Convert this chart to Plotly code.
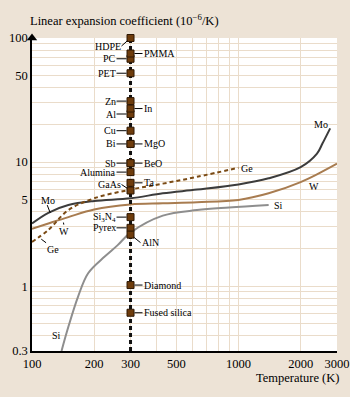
import math
import plotly.graph_objects as go

# ---- data ----
room_T = 300

mo_T = [100, 120, 150, 200, 300, 430, 630, 1000, 1400, 2000, 2400, 2550, 2780]
mo_v = [3.2, 3.9, 4.5, 4.85, 5.1, 5.6, 6.0, 6.6, 7.4, 9.1, 11.7, 14.1, 18.7]

w_T = [100, 120, 150, 200, 300, 430, 630, 1000, 1400, 2000, 2450, 3000]
w_v = [2.9, 3.2, 3.6, 4.15, 4.55, 4.65, 4.75, 4.95, 5.6, 6.9, 8.1, 9.7]

ge_T = [100, 120, 150, 200, 300, 430, 630, 1000]
ge_v = [2.27, 2.84, 4.1, 5.1, 6.0, 6.7, 7.6, 9.0]

si_T = [139, 150, 167, 187, 225, 260, 300, 430, 630, 900, 1400]
si_v = [0.3, 0.47, 0.82, 1.27, 1.73, 2.14, 2.7, 3.7, 4.1, 4.3, 4.5]

mat_left = ["HDPE", "PC", "PET", "Zn", "Al", "Cu", "Bi", "Sb", "Alumina", "GaAs",
            "Si<sub>3</sub>N<sub>4</sub>", "Pyrex"]
val_left = [100, 68, 52, 31, 24.4, 17.9, 14, 9.8, 8.3, 5.9, 3.6, 2.95]
mat_right = ["PMMA", "In", "MgO", "BeO", "Ta", "AlN", "Diamond", "Fused silica"]
val_right = [75, 27, 14, 9.8, 6.8, 2.6, 1.02, 0.61]

x_ticks = [100, 200, 300, 500, 1000, 2000, 3000]
x_minor = [400, 600, 700, 800, 900]
y_ticks = [0.3, 1, 5, 10, 50, 100]
y_minor = [0.4, 0.5, 0.6, 0.7, 0.8, 0.9, 2, 3, 4, 6, 7, 8, 9, 20, 30, 40, 60, 70, 80, 90]

# ---- styles ----
BG = "#EDE3D6"
GRID = "#EADCCA"
FONT = "Liberation Serif"
MARK = "#6E3C0C"
lx = math.log10

fig = go.Figure()

fig.add_trace(go.Scatter(x=si_T, y=si_v, mode="lines", line_shape="spline",
                         line=dict(color="#8E8E8E", width=2), showlegend=False))
fig.add_trace(go.Scatter(x=w_T, y=w_v, mode="lines", line_shape="spline",
                         line=dict(color="#A87C50", width=2), showlegend=False))
fig.add_trace(go.Scatter(x=mo_T, y=mo_v, mode="lines", line_shape="spline",
                         line=dict(color="#3C3C3C", width=2), showlegend=False))
fig.add_trace(go.Scatter(x=ge_T, y=ge_v, mode="lines", line_shape="spline",
                         line=dict(color="#7A4A14", width=2, dash="4px,3px"), showlegend=False))

# room-temperature dashed line
fig.add_trace(go.Scatter(x=[room_T, room_T], y=[y_ticks[0], y_ticks[-1]], mode="lines",
                         line=dict(color="#111111", width=3, dash="4px,3px"), showlegend=False))

all_vals = val_left + val_right
fig.add_trace(go.Scatter(x=[room_T] * len(all_vals), y=all_vals, mode="markers",
                         marker=dict(symbol="square", size=7, color=MARK,
                                     line=dict(color="#2E1804", width=1)),
                         cliponaxis=False, showlegend=False))

# axis arrow heads at the axis ends
fig.add_trace(go.Scatter(x=[x_ticks[0]], y=[y_ticks[-1]], mode="markers",
                         marker=dict(symbol="triangle-up", size=9, color="black"),
                         cliponaxis=False, showlegend=False))
fig.add_trace(go.Scatter(x=[x_ticks[-1]], y=[y_ticks[0]], mode="markers",
                         marker=dict(symbol="triangle-right", size=9, color="black"),
                         cliponaxis=False, showlegend=False))

# short leader for the left "Mo" label
fig.add_trace(go.Scatter(x=[118.5, 122.5], y=[4.5, 3.9], mode="lines",
                         line=dict(color="black", width=1), showlegend=False))

ann = []
lab_font = dict(family=FONT, size=10, color="black")


def leader(x, y, text, ax, ay, xanchor, yanchor="middle"):
    ann.append(dict(x=lx(x), y=lx(y), xref="x", yref="y", text=text, showarrow=True,
                    arrowhead=0, arrowwidth=1, arrowcolor="black", ax=ax, ay=ay,
                    standoff=4, xanchor=xanchor, yanchor=yanchor, font=lab_font,
                    borderpad=0))


for name, v in zip(mat_left, val_left):
    if name == "HDPE":
        leader(room_T, v, name, -9, 8, "right")
    elif name == "GaAs":
        leader(room_T, v, name, -9, -6, "right")
    else:
        leader(room_T, v, name, -14, 0, "right")

for name, v in zip(mat_right, val_right):
    if name == "AlN":
        leader(room_T, v, name, 10, 8, "left")
    else:
        leader(room_T, v, name, 12, 0, "left")

# curve labels
leader(141, 3.5, "W", 1, 6, "center", "top")
leader(107, 2.5, "Ge", 8, 6, "left", "top")
for x, y, t, xa in [(119.5, 4.94, "Mo", "center"),
                    (2500, 20.2, "Mo", "center"), (2316, 6.4, "W", "center"),
                    (1010, 8.95, "Ge", "left"), (1445, 4.5, "Si", "left"),
                    (131, 0.4, "Si", "center")]:
    ann.append(dict(x=lx(x), y=lx(y), xref="x", yref="y", text=t, showarrow=False,
                    xanchor=xa, yanchor="middle", font=lab_font))

# titles
ann.append(dict(x=-0.013, y=1.0575, xref="paper", yref="paper",
                text="Linear expansion coefficient (10<sup>−6</sup>/K)", showarrow=False,
                xanchor="left", yanchor="middle",
                font=dict(family=FONT, size=12.5, color="black")))
ann.append(dict(x=1.013, y=-0.086, xref="paper", yref="paper",
                text="Temperature (K)", showarrow=False, xanchor="right", yanchor="middle",
                font=dict(family=FONT, size=12.5, color="black")))

fig.update_layout(
    width=350, height=397,
    margin=dict(l=32, r=13, t=38, b=46, autoexpand=False),
    paper_bgcolor=BG, plot_bgcolor="white",
    annotations=ann,
    showlegend=False,
)

fig.update_xaxes(type="log", range=[2, 3.4771], tickvals=x_ticks,
                 ticktext=[str(v) for v in x_ticks], showgrid=True, gridcolor=GRID,
                 gridwidth=1, showline=True, linecolor="black", linewidth=1.5,
                 ticks="", zeroline=False, automargin=False,
                 tickfont=dict(family=FONT, size=12.5, color="black"),
                 minor=dict(tickvals=x_minor, showgrid=True, gridcolor=GRID, gridwidth=1,
                            ticks=""))
fig.update_yaxes(type="log", range=[-0.5229, 2], tickvals=y_ticks,
                 ticktext=["0.3", "1", "5", "10", "50", "100"], showgrid=True,
                 gridcolor=GRID, gridwidth=1, showline=True, linecolor="black",
                 linewidth=1.5, ticks="", zeroline=False, automargin=False,
                 tickfont=dict(family=FONT, size=12.5, color="black"),
                 minor=dict(tickvals=y_minor, showgrid=True, gridcolor=GRID, gridwidth=1,
                            ticks=""))

fig.write_html(
    "out.html",
    config={"displayModeBar": False},
    post_script="document.body.style.margin='0';document.body.style.background='%s';" % BG,
)
